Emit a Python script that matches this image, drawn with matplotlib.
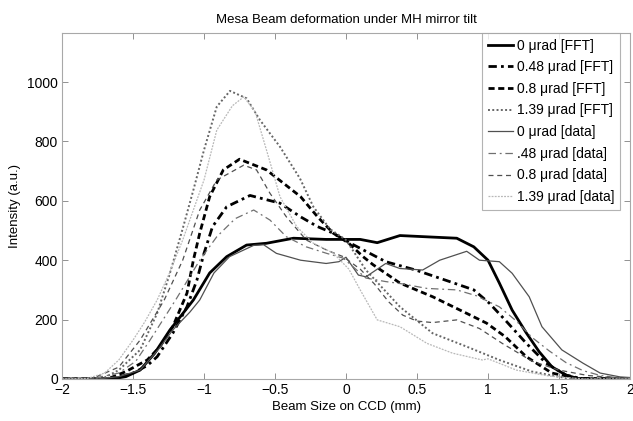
import matplotlib
matplotlib.use("Agg")
import matplotlib.pyplot as plt

plt.rcParams['font.family'] = ['Liberation Sans', 'DejaVu Sans']

# FFT model curves
x_fft0 = [-2, -1.65, -1.55, -1.45, -1.35, -1.24, -1.15, -1.075, -0.96, -0.84, -0.7, -0.56,
          -0.37, -0.14, 0.1, 0.22, 0.38, 0.6, 0.78, 0.9, 1.0, 1.08, 1.17, 1.27, 1.36, 1.45,
          1.55, 1.63, 1.75, 2]
y_fft0 = [0, 0, 8, 30, 85, 165, 220, 266, 357, 412, 451, 457,
          474, 470, 470, 459, 483, 478, 474, 445, 400, 323, 232, 155, 92, 41,
          13, 2, 0, 0]

x_fft048 = [-2, -1.65, -1.5, -1.4, -1.33, -1.22, -1.12, -1.05, -1.0, -0.94, -0.84, -0.676,
            -0.465, -0.32, -0.2, -0.09, 0.02, 0.28, 0.49, 0.73, 0.9, 1.01, 1.12, 1.27, 1.41,
            1.55, 1.65, 2]
y_fft048 = [0, 0, 20, 45, 75, 154, 243, 333, 423, 513, 580, 618,
            592, 546, 513, 491, 460, 395, 367, 328, 300, 255, 199, 120, 53,
            13, 2, 0]

x_fft08 = [-2, -1.68, -1.55, -1.4, -1.31, -1.22, -1.12, -1.075, -1.03, -0.96, -0.864, -0.75,
           -0.56, -0.44, -0.32, -0.2, -0.09, 0.02, 0.12, 0.19, 0.38, 0.61, 0.85, 0.99, 1.12,
           1.27, 1.45, 1.6, 1.7, 2]
y_fft08 = [0, 0, 25, 64, 109, 176, 289, 400, 491, 614, 704, 740,
           704, 659, 614, 546, 491, 457, 412, 385, 323, 277, 221, 188, 143,
           75, 20, 5, 0, 0]

x_fft139 = [-2, -1.72, -1.6, -1.45, -1.33, -1.24, -1.146, -1.075, -1.0, -0.91, -0.817, -0.7,
            -0.606, -0.465, -0.324, -0.23, -0.113, 0.0, 0.14, 0.38, 0.61, 0.85, 1.08, 1.31,
            1.55, 1.7, 2]
y_fft139 = [0, 0, 30, 98, 221, 356, 513, 636, 771, 917, 970, 945,
            872, 782, 675, 580, 505, 468, 367, 243, 154, 109, 64, 25,
            3, 0, 0]

# measured CCD profiles
x_dat0 = [-2, -1.75, -1.6, -1.45, -1.32, -1.22, -1.1, -1.03, -0.93, -0.82, -0.65, -0.58,
          -0.49, -0.32, -0.14, -0.05, 0.0, 0.087, 0.14, 0.28, 0.38, 0.54, 0.66, 0.85, 0.94,
          1.08, 1.17, 1.29, 1.38, 1.52, 1.67, 1.79, 1.93, 2]
y_dat0 = [0, 0, 8, 30, 100, 165, 225, 266, 357, 412, 450, 452,
          423, 400, 389, 395, 410, 350, 344, 389, 372, 367, 400, 430, 400,
          395, 356, 277, 176, 98, 53, 20, 7, 5]

x_dat048 = [-2, -1.78, -1.6, -1.48, -1.38, -1.2, -1.03, -0.91, -0.78, -0.65, -0.535, -0.42,
            -0.28, -0.136, -0.02, 0.14, 0.28, 0.4, 0.57, 0.78, 0.92, 1.08, 1.2, 1.31, 1.43,
            1.55, 1.67, 1.79, 1.9, 2]
y_dat048 = [0, 2, 20, 60, 131, 266, 400, 479, 540, 569, 535, 479,
            445, 423, 407, 340, 328, 320, 305, 300, 280, 243, 195, 140, 95,
            55, 28, 12, 5, 3]

x_dat08 = [-2, -1.78, -1.6, -1.45, -1.28, -1.15, -1.03, -0.91, -0.72, -0.63, -0.535, -0.42,
           -0.28, -0.136, -0.02, 0.1, 0.2, 0.3, 0.4, 0.5, 0.61, 0.78, 0.94, 1.1, 1.31,
           1.5, 1.7, 1.9, 2]
y_dat08 = [0, 3, 40, 131, 266, 400, 569, 670, 720, 704, 625, 546,
           468, 434, 412, 370, 320, 260, 215, 195, 190, 199, 170, 120, 60,
           30, 12, 4, 2]

x_dat139 = [-2, -1.82, -1.7, -1.6, -1.5, -1.42, -1.33, -1.24, -1.15, -1.0, -0.91, -0.8,
            -0.72, -0.64, -0.56, -0.465, -0.347, -0.23, -0.09, 0.02, 0.1, 0.22, 0.38, 0.57,
            0.75, 0.96, 1.0, 1.2, 1.43, 1.67, 2]
y_dat139 = [0, 2, 20, 64, 131, 190, 266, 360, 468, 670, 838, 920,
            950, 900, 771, 614, 513, 457, 424, 370, 300, 199, 176, 120,
            87, 64, 68, 30, 10, 0, 0]

labels = ['0 \u03bcrad [FFT]', '0.48 \u03bcrad [FFT]', '0.8 \u03bcrad [FFT]', '1.39 \u03bcrad [FFT]',
          '0 \u03bcrad [data]', '.48 \u03bcrad [data]', '0.8 \u03bcrad [data]', '1.39 \u03bcrad [data]']

fig = plt.figure(figsize=(6.33, 4.21), dpi=100)
ax = fig.add_axes([62/633, 42/421, 568/633, 346/421])

ax.plot(x_fft0, y_fft0, color='black', lw=2.0, ls='-', label=labels[0])
ax.plot(x_fft048, y_fft048, color='black', lw=2.0, ls=(0, (3, 1.5, 1, 1.5)), label=labels[1])
ax.plot(x_fft08, y_fft08, color='black', lw=2.0, ls=(0, (2.2, 1.3)), label=labels[2])
ax.plot(x_fft139, y_fft139, color='#666666', lw=1.4, ls=(0, (1, 1.2)), label=labels[3])
ax.plot(x_dat0, y_dat0, color='#505050', lw=0.9, ls='-', label=labels[4])
ax.plot(x_dat048, y_dat048, color='#707070', lw=0.9, ls=(0, (6, 3, 1.5, 3)), label=labels[5])
ax.plot(x_dat08, y_dat08, color='#505050', lw=0.9, ls=(0, (4, 3)), label=labels[6])
ax.plot(x_dat139, y_dat139, color='#b8b8b8', lw=0.9, ls=(0, (1.5, 1)), label=labels[7])

ax.set_xlim(-2, 2)
ax.set_ylim(0, 1165)
ax.set_xticks([-2, -1.5, -1, -0.5, 0, 0.5, 1, 1.5, 2])
ax.set_xticklabels(['\u22122', '\u22121.5', '\u22121', '\u22120.5', '0', '0.5', '1', '1.5', '2'])
ax.set_yticks([0, 200, 400, 600, 800, 1000])

for s in ax.spines.values():
    s.set_color('#a8a8a8')
    s.set_linewidth(0.8)
ax.tick_params(direction='in', length=4, width=0.6, color='#808080', labelsize=10,
               top=True, right=True, pad=3)

ax.set_xlabel('Beam Size on CCD (mm)', fontsize=9.5, labelpad=3)
ax.set_ylabel('Intensity (a.u.)', fontsize=9.5, labelpad=4)
ax.set_title('Mesa Beam deformation under MH mirror tilt', fontsize=9.5, pad=7)

leg = ax.legend(loc='upper right', bbox_to_anchor=((620 - 62) / 568, 1.0), borderaxespad=0,
                fontsize=10, frameon=True, fancybox=False, handlelength=1.8,
                handletextpad=0.3, labelspacing=0.55, borderpad=0.4)
leg.get_frame().set_edgecolor('#a0a0a0')
leg.get_frame().set_linewidth(0.8)

fig.savefig('out.png', dpi=100)
